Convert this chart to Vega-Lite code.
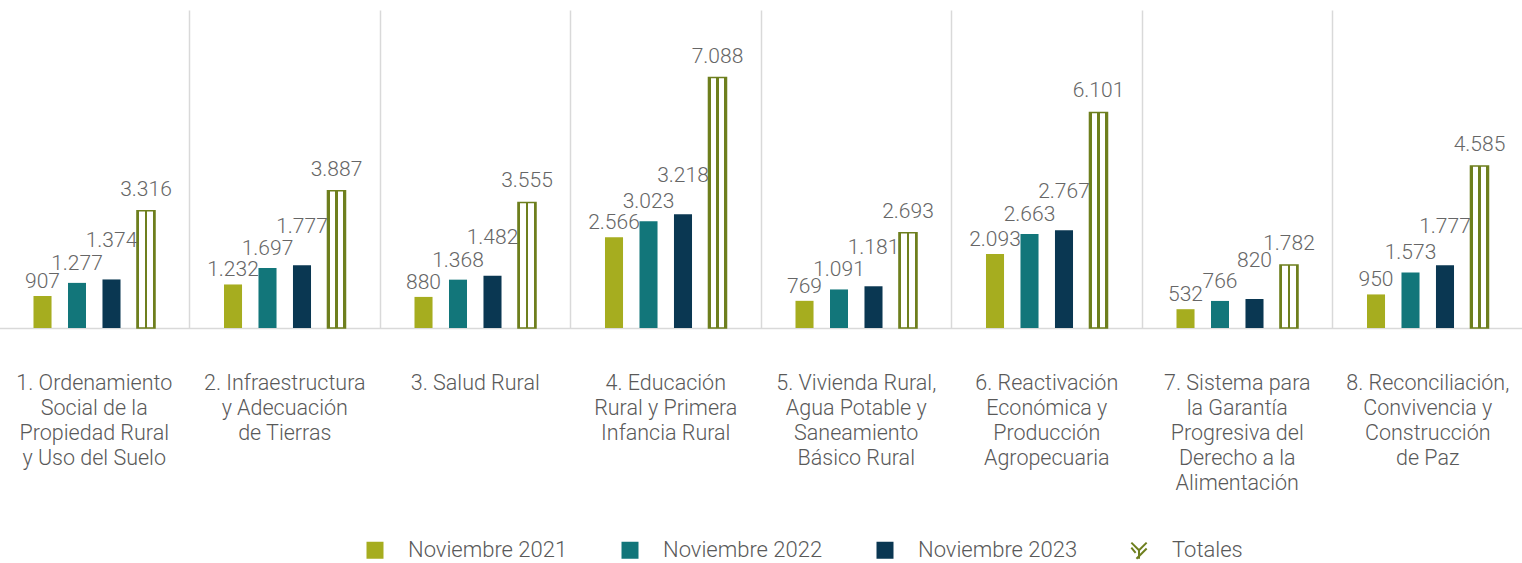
{
  "$schema": "https://vega.github.io/schema/vega-lite/v6.json",
  "width": 1524,
  "height": 318,
  "padding": {"left": -1, "top": 10, "right": 0, "bottom": 235},
  "autosize": {"type": "none"},
  "background": "#ffffff",
  "config": {
    "view": {"stroke": null},
    "font": "Roboto",
    "locale": {"number": {"decimal": ",", "thousands": ".", "grouping": [3], "currency": ["$", ""]}}
  },
  "data": {
    "values": [
      {"cat": "1. Ordenamiento|Social de la|Propiedad Rural|y Uso del Suelo", "serie": "Noviembre 2021", "valor": 907},
      {"cat": "1. Ordenamiento|Social de la|Propiedad Rural|y Uso del Suelo", "serie": "Noviembre 2022", "valor": 1277},
      {"cat": "1. Ordenamiento|Social de la|Propiedad Rural|y Uso del Suelo", "serie": "Noviembre 2023", "valor": 1374},
      {"cat": "1. Ordenamiento|Social de la|Propiedad Rural|y Uso del Suelo", "serie": "Totales", "valor": 3316},
      {"cat": "2. Infraestructura|y Adecuación|de Tierras", "serie": "Noviembre 2021", "valor": 1232},
      {"cat": "2. Infraestructura|y Adecuación|de Tierras", "serie": "Noviembre 2022", "valor": 1697},
      {"cat": "2. Infraestructura|y Adecuación|de Tierras", "serie": "Noviembre 2023", "valor": 1777},
      {"cat": "2. Infraestructura|y Adecuación|de Tierras", "serie": "Totales", "valor": 3887},
      {"cat": "3. Salud Rural", "serie": "Noviembre 2021", "valor": 880},
      {"cat": "3. Salud Rural", "serie": "Noviembre 2022", "valor": 1368},
      {"cat": "3. Salud Rural", "serie": "Noviembre 2023", "valor": 1482},
      {"cat": "3. Salud Rural", "serie": "Totales", "valor": 3555},
      {"cat": "4. Educación|Rural y Primera|Infancia Rural", "serie": "Noviembre 2021", "valor": 2566},
      {"cat": "4. Educación|Rural y Primera|Infancia Rural", "serie": "Noviembre 2022", "valor": 3023},
      {"cat": "4. Educación|Rural y Primera|Infancia Rural", "serie": "Noviembre 2023", "valor": 3218},
      {"cat": "4. Educación|Rural y Primera|Infancia Rural", "serie": "Totales", "valor": 7088},
      {"cat": "5. Vivienda Rural,|Agua Potable y|Saneamiento|Básico Rural", "serie": "Noviembre 2021", "valor": 769},
      {"cat": "5. Vivienda Rural,|Agua Potable y|Saneamiento|Básico Rural", "serie": "Noviembre 2022", "valor": 1091},
      {"cat": "5. Vivienda Rural,|Agua Potable y|Saneamiento|Básico Rural", "serie": "Noviembre 2023", "valor": 1181},
      {"cat": "5. Vivienda Rural,|Agua Potable y|Saneamiento|Básico Rural", "serie": "Totales", "valor": 2693},
      {"cat": "6. Reactivación|Económica y|Producción|Agropecuaria", "serie": "Noviembre 2021", "valor": 2093},
      {"cat": "6. Reactivación|Económica y|Producción|Agropecuaria", "serie": "Noviembre 2022", "valor": 2663},
      {"cat": "6. Reactivación|Económica y|Producción|Agropecuaria", "serie": "Noviembre 2023", "valor": 2767},
      {"cat": "6. Reactivación|Económica y|Producción|Agropecuaria", "serie": "Totales", "valor": 6101},
      {"cat": "7. Sistema para|la Garantía|Progresiva del|Derecho a la|Alimentación", "serie": "Noviembre 2021", "valor": 532},
      {"cat": "7. Sistema para|la Garantía|Progresiva del|Derecho a la|Alimentación", "serie": "Noviembre 2022", "valor": 766},
      {"cat": "7. Sistema para|la Garantía|Progresiva del|Derecho a la|Alimentación", "serie": "Noviembre 2023", "valor": 820},
      {"cat": "7. Sistema para|la Garantía|Progresiva del|Derecho a la|Alimentación", "serie": "Totales", "valor": 1782},
      {"cat": "8. Reconciliación,|Convivencia y|Construcción|de Paz", "serie": "Noviembre 2021", "valor": 950},
      {"cat": "8. Reconciliación,|Convivencia y|Construcción|de Paz", "serie": "Noviembre 2022", "valor": 1573},
      {"cat": "8. Reconciliación,|Convivencia y|Construcción|de Paz", "serie": "Noviembre 2023", "valor": 1777},
      {"cat": "8. Reconciliación,|Convivencia y|Construcción|de Paz", "serie": "Totales", "valor": 4585}
    ]
  },
  "encoding": {
    "x": {
      "field": "cat", "type": "nominal", "sort": null, "title": null,
      "scale": {"paddingInner": 0, "paddingOuter": 0},
      "axis": {
        "labelExpr": "split(datum.label, '|')",
        "labelAngle": 0, "labelFont": "Roboto", "labelFontWeight": 300,
        "labelFontSize": 21.5, "labelColor": "#595959", "labelLineHeight": 25,
        "labelBaseline": "top", "labelPadding": 44, "labelLimit": 0,
        "ticks": false, "domainColor": "#d9d9d9", "domainWidth": 1.5,
        "grid": true, "bandPosition": 0, "gridColor": "#d9d9d9", "gridWidth": 1.5,
        "gridOpacity": {"condition": {"test": "datum.index === 0", "value": 0}, "value": 1}
      }
    },
    "xOffset": {
      "field": "serie", "type": "nominal",
      "scale": {"domain": ["Noviembre 2021", "Noviembre 2022", "Noviembre 2023", "Totales"], "paddingInner": 0.477, "paddingOuter": 1.17}
    },
    "y": {
      "field": "valor", "type": "quantitative",
      "scale": {"domain": [0, 9000], "nice": false},
      "axis": null
    }
  },
  "layer": [
    {
      "mark": {"type": "bar"},
      "encoding": {
        "color": {
          "field": "serie", "type": "nominal", "title": null,
          "scale": {
            "domain": ["Noviembre 2021", "Noviembre 2022", "Noviembre 2023", "Totales"],
            "range": ["#a6ad1f", "#12767a", "#0a3752", "#6e7f1e"]
          },
          "legend": {
            "orient": "none", "legendX": 365, "legendY": 529,
            "direction": "horizontal", "columns": 4, "padding": 0,
            "symbolType": "square", "symbolSize": 289, "symbolStrokeWidth": 0,
            "labelFont": "Roboto", "labelFontWeight": 300, "labelFontSize": 22,
            "labelColor": "#595959", "labelOffset": 22, "columnPadding": 49,
            "labelLimit": 0,
            "encode": {
              "symbols": {
                "update": {
                  "fill": {"signal": "datum.value === 'Totales' ? 'transparent' : scale('color', datum.value)"},
                  "stroke": {"signal": "datum.value === 'Totales' ? '#6e7f1e' : 'transparent'"},
                  "strokeWidth": {"value": 2},
                  "shape": {"signal": "datum.value === 'Totales' ? 'M-0.9,-0.9L0,0M0,0L0.9,-0.9M0,0L0,1M-0.3,1L0.9,-0.2M-0.9,-0.3L-0.4,0.3' : 'square'"}
                }
              }
            }
          }
        }
      }
    },
    {
      "transform": [{"filter": "datum.serie === 'Totales'"}],
      "mark": {
        "type": "bar",
        "stroke": "#6e7f1e", "strokeWidth": 1.5,
        "fill": {
          "gradient": "linear", "x1": 0, "y1": 0, "x2": 1, "y2": 0,
          "stops": [
            {"offset": 0, "color": "#6e7f1e"},
            {"offset": 0.12, "color": "#6e7f1e"},
            {"offset": 0.12, "color": "#ffffff"},
            {"offset": 0.42, "color": "#ffffff"},
            {"offset": 0.42, "color": "#6e7f1e"},
            {"offset": 0.58, "color": "#6e7f1e"},
            {"offset": 0.58, "color": "#ffffff"},
            {"offset": 0.88, "color": "#ffffff"},
            {"offset": 0.88, "color": "#6e7f1e"},
            {"offset": 1, "color": "#6e7f1e"}
          ]
        }
      },
      "encoding": {}
    },
    {
      "transform": [{"filter": "datum.serie === 'Noviembre 2021'"}],
      "mark": {"type": "text", "baseline": "alphabetic", "dy": -8, "font": "Roboto", "fontWeight": 300, "fontSize": 21, "fill": "#666666"},
      "encoding": {"text": {"field": "valor", "type": "quantitative", "format": ",d"}}
    },
    {
      "transform": [{"filter": "datum.serie === 'Noviembre 2022'"}],
      "mark": {"type": "text", "baseline": "alphabetic", "dy": -13, "font": "Roboto", "fontWeight": 300, "fontSize": 21, "fill": "#666666"},
      "encoding": {"text": {"field": "valor", "type": "quantitative", "format": ",d"}}
    },
    {
      "transform": [{"filter": "datum.serie === 'Noviembre 2023'"}],
      "mark": {"type": "text", "baseline": "alphabetic", "dy": -32, "font": "Roboto", "fontWeight": 300, "fontSize": 21, "fill": "#666666"},
      "encoding": {"text": {"field": "valor", "type": "quantitative", "format": ",d"}}
    },
    {
      "transform": [{"filter": "datum.serie === 'Totales'"}],
      "mark": {"type": "text", "baseline": "alphabetic", "dy": -15, "font": "Roboto", "fontWeight": 300, "fontSize": 21, "fill": "#666666"},
      "encoding": {"text": {"field": "valor", "type": "quantitative", "format": ",d"}}
    }
  ]
}
